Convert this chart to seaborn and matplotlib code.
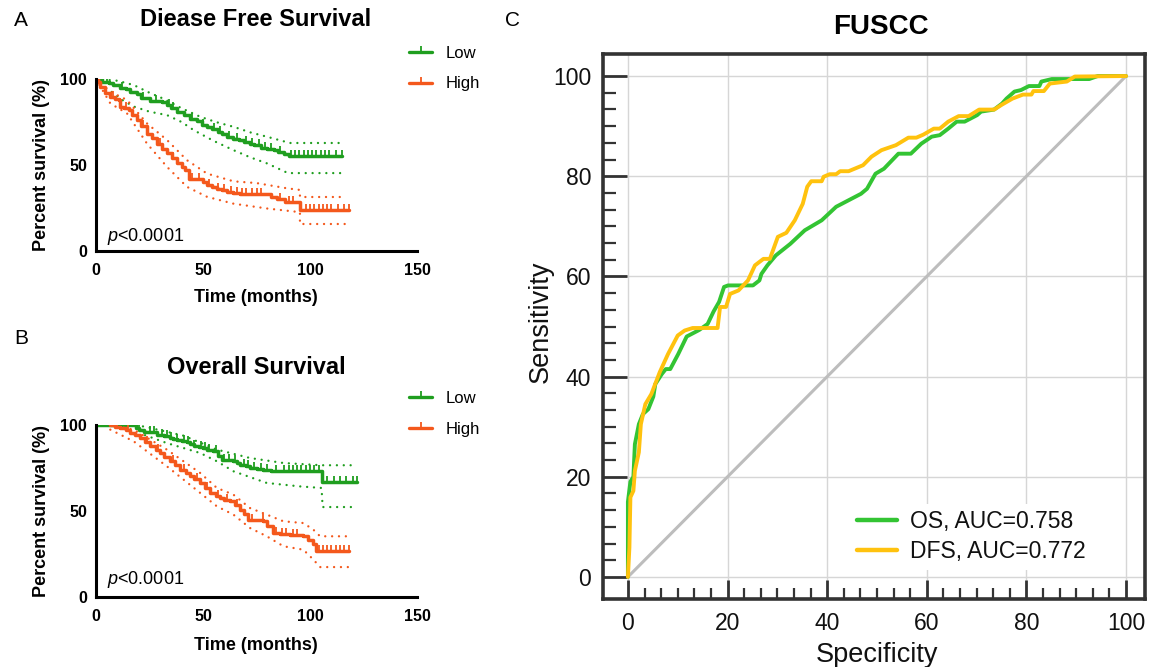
import numpy as np
import pandas as pd
import matplotlib
matplotlib.use("Agg")
import matplotlib.pyplot as plt
from matplotlib.lines import Line2D
from matplotlib.ticker import FixedLocator
import seaborn as sns

# ---------------- data ----------------
# Panel A: disease free survival (Kaplan-Meier step knots, %)
dfs_low_t = [0, 3, 6, 8, 11, 14, 16, 19, 21, 25, 31, 33, 35, 38, 41, 44, 47, 49.5, 52, 54, 57, 59, 61, 64, 67,
             69, 72, 74, 77, 80, 83, 85, 88, 90, 115]
dfs_low_s = [100, 98.5, 97.5, 96.5, 95, 94, 92.6, 91, 88.7, 87.4, 86.8, 84.9, 83, 81, 79, 76.5, 75.5, 73, 72, 71,
             69, 68, 66.5, 65, 64.5, 63.5, 62.5, 61.5, 60, 59.3, 58.5, 57.5, 56.5, 55.1, 55.1]
dfs_low_cens = [5, 12, 22, 28, 34, 36, 45, 50, 55, 58, 62, 66, 70, 73, 76, 79, 82, 86, 91, 93, 95, 97, 99, 101,
                103, 105, 107, 109, 112, 115]
dfs_low_up_t = [0, 5, 10, 17.6, 25, 31.6, 40, 48.8, 56, 64.3, 72, 80, 90.6, 115]
dfs_low_up_s = [100, 99.5, 99, 96.5, 92, 88.5, 83, 78, 75, 72.2, 69, 66.4, 62.8, 62.8]
dfs_low_lo_t = [0, 3, 8, 12, 17.6, 25, 33.2, 40, 45.6, 55, 64.3, 72, 80, 89.7, 115]
dfs_low_lo_s = [100, 96, 92, 88, 84, 81, 79, 75, 70.3, 64, 58.6, 54.5, 50.9, 45.3, 45.3]

dfs_high_t = [0, 1, 2, 4, 6.7, 9, 10.6, 11.4, 13, 15.3, 17, 19.2, 21, 23.8, 26, 28.5, 31, 33.2, 35.5, 37.9, 40,
              41.7, 43.3, 47.2, 50, 52, 54, 56.5, 59, 61.2, 64, 67.4, 72, 79.9, 82, 84.6, 88.5, 95.5, 118]
dfs_high_s = [100, 98, 95.5, 92, 89.7, 88.5, 87.8, 83.9, 83, 81.9, 79, 76.1, 72.5, 68.3, 65.5, 62.5, 59.5, 56.7,
              54, 50.9, 49, 47, 42.1, 42.1, 40, 38.3, 37.3, 36.3, 35.5, 34.4, 33.8, 33.4, 33.2, 33, 31.5, 30.1,
              28.5, 23.8, 23.8]
dfs_high_cens = [8, 14, 22, 30, 36, 45, 48, 53, 57, 60, 63, 66, 68, 70, 73, 75, 77, 86, 90, 92, 98, 100, 102,
                 104, 106, 108, 110, 113, 116, 118]
dfs_high_up_t = [0, 6.7, 14.5, 23.8, 33.2, 42.5, 51.9, 64.3, 75, 89, 95.3, 95.3, 115.4]
dfs_high_up_s = [100, 92.6, 87.8, 74.2, 64.5, 52.8, 45, 40.5, 39.5, 36.5, 35.5, 31.4, 31.4]
dfs_high_lo_t = [0, 6.7, 14.5, 23.8, 33.2, 42.5, 51.9, 64.3, 80, 94.5, 95.3, 95.3, 117.5]
dfs_high_lo_s = [100, 85.8, 80, 62.5, 48.9, 37.3, 31.5, 27.5, 24.7, 22.7, 22.5, 15.7, 15.7]

# Panel B: overall survival
os_low_t = [0, 18.8, 19.9, 22.2, 28.5, 30, 32, 34.7, 36, 37.8, 40, 42.5, 44, 45.6, 48, 50.2, 52, 54.9, 57.2,
            58.8, 64.2, 66, 67.3, 70, 72, 75, 78.2, 82, 86, 105.4, 122]
os_low_s = [100, 98.3, 97.3, 95.7, 94.4, 94, 93.4, 92.5, 92, 91.5, 90.5, 89.9, 89, 88, 87.2, 86.6, 85.6, 84.7,
            81.8, 79.8, 78.8, 77.9, 77, 76, 75.2, 74.4, 73.8, 73.5, 73.1, 66.7, 66.7]
os_low_cens = [20, 25, 27, 31, 33, 35, 38, 41, 43, 46, 49, 51, 53, 56, 60, 62, 65, 69, 71, 74, 77, 80, 84, 88,
               90, 92, 94, 96, 98, 100, 102, 104, 108, 111, 114, 117, 120, 122]
os_low_up_t = [18.8, 25.3, 40.9, 56.5, 72, 87.6, 105.4, 121.8]
os_low_up_s = [100, 98.3, 93.8, 85.7, 80.8, 77.9, 76.6, 76.6]
os_low_lo_t = [18.8, 22.2, 33.1, 48.7, 56.5, 64.2, 79.8, 95.3, 105.4, 105.9, 121.8]
os_low_lo_s = [100, 94.4, 89.5, 83.7, 78.9, 73.1, 66.3, 64.3, 63.4, 52.3, 52.3]

os_high_t = [6.7, 9, 11.4, 14, 16, 18, 20.7, 23, 25.3, 28, 30, 32, 34.7, 37, 39.4, 42, 44, 46, 48.7, 51, 53.3,
             56, 58, 60, 62.7, 65, 67.3, 69, 71.2, 76, 78.2, 80, 82.9, 86, 90.7, 96.9, 99, 101.6, 102.8, 118]
os_high_s = [100, 99, 98.3, 97, 95.3, 94, 92.4, 90, 87.6, 85.5, 83.7, 81.5, 78.9, 76.5, 74, 72, 70.2, 68.5,
             66.3, 63.5, 60.5, 58.5, 57.6, 56.5, 55.6, 53.5, 50.8, 48, 45, 44.5, 44, 41, 37.2, 36.8, 36.2, 35.7,
             33, 31, 26.6, 26.6]
os_high_cens = [10, 15, 24, 29, 36, 41, 47, 52, 57, 61, 66, 73, 78, 84, 87, 89, 92, 94, 104, 106, 108, 110,
                112, 114, 116, 118]
os_high_up_t = [6.7, 17.6, 33.1, 48.7, 56.5, 64.2, 72, 79.8, 87.6, 96.9, 101.6, 104.7, 117.9]
os_high_up_s = [100, 97.3, 85.7, 72.1, 63.4, 59.5, 51.7, 47.9, 44, 43, 39.1, 35.3, 35.3]
os_high_lo_t = [6.7, 17.6, 33.1, 48.7, 56.5, 64.2, 72, 79.8, 87.6, 96.9, 101.6, 104.7, 117.9]
os_high_lo_s = [97.3, 90.5, 76, 60.5, 52.7, 47.9, 40.1, 35.3, 29.5, 27.5, 21.7, 17.4, 17.4]

km_groups = ["Low", "High"]
km_xticks = [0, 50, 100, 150]
km_yticks = [0, 50, 100]

# Panel C: ROC curves (x = 100 - specificity, y = sensitivity)
os_fpr = [0, 0, 0.5, 1.1, 1.4, 2.2, 3, 4.1, 5.1, 5.5, 6.8, 7.6, 8.5, 10.1, 11.8, 14.3, 16, 17.2, 18.3, 19.3,
          20.1, 25.1, 26.4, 26.8, 28, 29.7, 32.6, 35.5, 38.9, 41.8, 44.3, 46.8, 48, 49.7, 51.4, 54.3, 56.8, 58.9,
          61, 62.6, 64.3, 66, 67.6, 70.1, 70.9, 73.5, 75.1, 76, 77.6, 78.9, 80.5, 82.6, 83, 85.1, 92.6, 94.3, 100]
os_tpr = [0, 15, 19, 20, 26.5, 30.5, 32.5, 33.5, 36, 38.5, 40.5, 41.5, 41.5, 44.5, 48, 49.3, 50.5, 53, 54.9,
          57.9, 58.2, 58.2, 59.2, 60.5, 62.2, 64.2, 66.5, 69.2, 71.2, 73.9, 75.2, 76.5, 77.5, 80.5, 81.5, 84.5,
          84.5, 86.5, 87.9, 88.2, 89.5, 90.9, 90.9, 92.2, 92.9, 93.3, 94.5, 95.5, 96.9, 97.2, 98, 98, 98.9, 99.4,
          99.4, 100, 100]
dfs_fpr = [0, 0.3, 0.5, 1.1, 1.4, 2.2, 2.6, 3.5, 4.7, 6.4, 8.05, 10, 11.4, 13, 18, 18.5, 19.7, 20.5, 22.2, 24.1,
           25.5, 27.2, 28.5, 30.1, 31.8, 33.5, 35.1, 36, 36.8, 38.9, 39.3, 40.5, 41.8, 42.6, 44.3, 47.2, 48.9,
           50.9, 53.8, 56.3, 57.9, 59.3, 61.4, 62.6, 64.3, 66.4, 68.4, 70.5, 73.5, 75.1, 77.2, 79.3, 81, 81.4,
           83.5, 84.7, 88.1, 89.7, 100]
dfs_tpr = [0, 5.9, 15.9, 17.2, 21.2, 24.9, 30.5, 34.5, 36.5, 40.9, 44.5, 48.2, 49.2, 49.7, 49.7, 53.9, 53.9,
           56.5, 57.2, 59.2, 62.2, 63.5, 63.5, 67.9, 68.7, 71.2, 74.5, 77.9, 79, 79, 79.9, 80.4, 80.4, 81, 81,
           82.2, 83.9, 85.2, 86.2, 87.7, 87.7, 88.3, 89.5, 89.5, 90.9, 92, 92, 93.3, 93.3, 94.3, 95.5, 96.3,
           96.3, 97, 97, 98.5, 98.9, 99.9, 100]
roc_labels = ["OS, AUC=0.758", "DFS, AUC=0.772"]
diag = [0, 100]
roc_ticks = [0, 20, 40, 60, 80, 100]

# ---------------- style ----------------
sns.set_style("white")
plt.rcParams["font.family"] = ["Liberation Sans", "DejaVu Sans"]
plt.rcParams["mathtext.fontset"] = "custom"
plt.rcParams["mathtext.it"] = "Liberation Sans:italic"
plt.rcParams["mathtext.rm"] = "Liberation Sans"
for key in ("text.color", "axes.labelcolor", "xtick.color", "ytick.color"):
    plt.rcParams[key] = "black"

GREEN = "#1f9e1f"
ORANGE = "#f4581c"
ROC_GREEN = "#33c433"
ROC_YELLOW = "#ffc20e"

W, H = 1150, 667
fig = plt.figure(figsize=(W / 100, H / 100), dpi=100)


def fx(px):
    return px / W


def fy(py):
    return 1 - py / H


def step_val(t, s, c):
    t = np.asarray(t)
    s = np.asarray(s)
    idx = np.searchsorted(t, c, side="right") - 1
    return s[np.clip(idx, 0, len(s) - 1)]


def km_panel(top, bottom, curves, title, title_y, legend_top, xlabel_y, p_y):
    ax = fig.add_axes([fx(96), fy(bottom), fx(417) - fx(96), fy(top) - fy(bottom)])
    for (t, s, cens, up_t, up_s, lo_t, lo_s, color) in curves:
        df = pd.DataFrame({"t": t, "s": s})
        sns.lineplot(data=df, x="t", y="s", ax=ax, color=color, lw=2.5, drawstyle="steps-post",
                     sort=False, estimator=None)
        for ct, cs in ((up_t, up_s), (lo_t, lo_s)):
            ax.plot(ct, cs, color=color, lw=1.7, linestyle=(0, (0.01, 2.9)), dash_capstyle="round")
        ax.plot(cens, step_val(t, s, cens), linestyle="none", marker=2, markersize=4,
                markeredgewidth=1.3, color=color)
    ax.set_xlim(0, 150)
    ax.set_ylim(0, 100)
    ax.set_xticks(km_xticks)
    ax.set_yticks(km_yticks)
    ax.set_xlabel("")
    ax.set_ylabel("")
    for side in ("top", "right"):
        ax.spines[side].set_visible(False)
    for side in ("left", "bottom"):
        ax.spines[side].set_linewidth(2.2)
        ax.spines[side].set_color("black")
    ax.tick_params(direction="out", length=4, width=1.6, color="black", labelcolor="black",
                   labelsize=11.5, pad=2.5)
    ax.tick_params(axis="x", pad=4.5)
    for lab in ax.get_xticklabels() + ax.get_yticklabels():
        lab.set_fontweight("bold")
    ax.text(5.1, p_y, "$\\it{p}$<0.0001", fontsize=13, va="center", ha="left", color="black")
    fig.text(fx(256), fy(title_y), title, fontsize=17, fontweight="bold", ha="center", va="center")
    fig.text(fx(42), fy((top + bottom) / 2), "Percent survival (%)", fontsize=13, fontweight="bold",
             rotation=90, ha="center", va="center")
    fig.text(fx(256), fy(xlabel_y), "Time (months)", fontsize=13, fontweight="bold", ha="center",
             va="center")
    handles = [Line2D([0], [0], color=c[-1], lw=2.4, marker=2, markersize=4, markeredgewidth=1.3)
               for c in curves]
    fig.legend(handles, km_groups, loc="upper left", bbox_to_anchor=(fx(404), fy(legend_top)),
               frameon=False, fontsize=12, handlelength=1.4, handletextpad=0.8, labelspacing=0.95,
               borderpad=0.3, borderaxespad=0, numpoints=1, labelcolor="black")
    return ax


km_panel(79, 251,
         [(dfs_low_t, dfs_low_s, dfs_low_cens, dfs_low_up_t, dfs_low_up_s, dfs_low_lo_t, dfs_low_lo_s, GREEN),
          (dfs_high_t, dfs_high_s, dfs_high_cens, dfs_high_up_t, dfs_high_up_s, dfs_high_lo_t, dfs_high_lo_s,
           ORANGE)],
         "Diease Free Survival", 20, 40.5, 298, 8.7)
km_panel(425, 597,
         [(os_low_t, os_low_s, os_low_cens, os_low_up_t, os_low_up_s, os_low_lo_t, os_low_lo_s, GREEN),
          (os_high_t, os_high_s, os_high_cens, os_high_up_t, os_high_up_s, os_high_lo_t, os_high_lo_s, ORANGE)],
         "Overall Survival", 368, 386, 645, 9.9)

# ---------------- ROC panel ----------------
axc = fig.add_axes([fx(603), fy(599), fx(1145) - fx(603), fy(54) - fy(599)])
axc.grid(True, which="major", color="#d6d6d6", lw=1.0)
axc.set_axisbelow(True)
sns.lineplot(x=diag, y=diag, ax=axc, color="#bdbdbd", lw=2.2, sort=False, estimator=None)
roc_df = pd.concat([
    pd.DataFrame({"fpr": os_fpr, "tpr": os_tpr, "curve": roc_labels[0]}),
    pd.DataFrame({"fpr": dfs_fpr, "tpr": dfs_tpr, "curve": roc_labels[1]}),
])
sns.lineplot(data=roc_df, x="fpr", y="tpr", hue="curve", palette=[ROC_GREEN, ROC_YELLOW], lw=2.8,
             sort=False, estimator=None, ax=axc, legend=False)
axc.set_xlim(-5, 103.8)
axc.set_ylim(-4.4, 104.4)
axc.set_xticks(roc_ticks)
axc.set_yticks(roc_ticks)
minor = [i * 20 / 6 for i in range(31) if i % 6]
axc.xaxis.set_minor_locator(FixedLocator(minor))
axc.yaxis.set_minor_locator(FixedLocator(minor))
axc.set_xlabel("")
axc.set_ylabel("")
for sp in axc.spines.values():
    sp.set_linewidth(2.6)
    sp.set_color("#333333")
    sp.set_visible(True)
axc.tick_params(which="both", direction="in", color="#333333", labelcolor="#111111", labelsize=16.5,
                bottom=True, left=True)
axc.tick_params(axis="x", which="major", length=14, width=2, pad=9)
axc.tick_params(axis="y", which="major", length=17, width=2, pad=8.5)
axc.tick_params(axis="x", which="minor", length=8, width=1.6)
axc.tick_params(axis="y", which="minor", length=9, width=1.6)
roc_handles = [Line2D([0], [0], color=ROC_GREEN, lw=3.2), Line2D([0], [0], color=ROC_YELLOW, lw=3.2)]
leg = axc.legend(roc_handles, roc_labels, loc="center left", bbox_to_anchor=(44.6, 8.0),
                 bbox_transform=axc.transData, frameon=True, fontsize=16.5, handlelength=1.75,
                 handletextpad=0.55, labelspacing=0.3, borderpad=0.3, borderaxespad=0, labelcolor="#111111")
leg.get_frame().set_facecolor("white")
leg.get_frame().set_edgecolor("none")
leg.get_frame().set_alpha(1)

fig.text(fx(881), fy(27), "FUSCC", fontsize=20, fontweight="bold", ha="center", va="center")
fig.text(fx(877), fy(655), "Specificity", fontsize=19.5, ha="center", va="center", color="#111111")
fig.text(fx(541), fy(322), "Sensitivity", fontsize=19.5, rotation=90, ha="center", va="center",
         color="#111111")

fig.text(fx(14), fy(20), "A", fontsize=15, ha="left", va="center")
fig.text(fx(14), fy(338), "B", fontsize=15, ha="left", va="center")
fig.text(fx(505), fy(20), "C", fontsize=15, ha="left", va="center")

fig.savefig("out.png", dpi=100)
